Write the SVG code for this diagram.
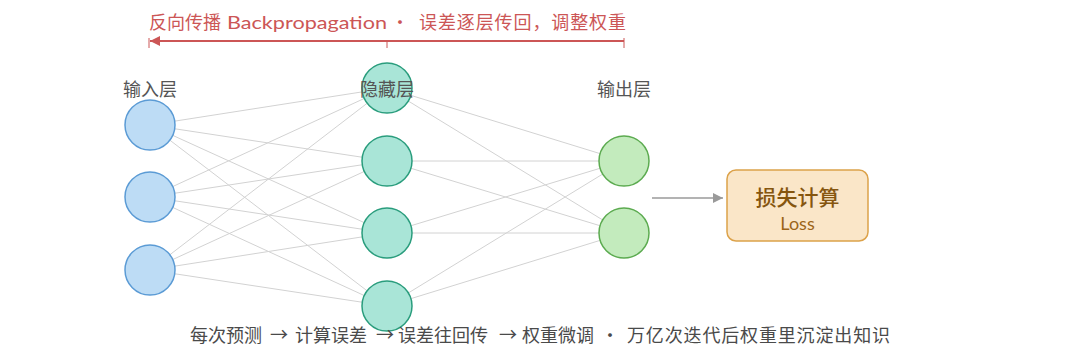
<svg xmlns="http://www.w3.org/2000/svg" width="1080" height="363" viewBox="0 0 1080 363">
<defs>
<style>
.cjk{font-family:"Noto Sans CJK SC","Noto Sans",sans-serif;}
.lat{font-family:"Lato","Noto Sans","Noto Sans CJK SC",sans-serif;}
.red{fill:#cc5656;font-size:18px;}
.lbl{fill:#555;font-size:18px;text-anchor:middle;}
.foot{fill:#4a4a4a;font-size:18px;}
.edge{stroke:#d2d2d2;stroke-width:1;fill:none;}
.in{fill:#bddcf5;stroke:#5b9bd5;stroke-width:1.5;}
.hid{fill:#a9e5d7;stroke:#2a9d7d;stroke-width:1.5;}
.out{fill:#c3ebbd;stroke:#5cab50;stroke-width:1.5;}
</style>
<marker id="ga" viewBox="0 0 10 10" refX="10" refY="5" markerWidth="10" markerHeight="10" markerUnits="userSpaceOnUse" orient="auto"><path d="M0,0 L10,5 L0,10 z" fill="#9a9a9a"/></marker>
<marker id="ra" viewBox="0 0 10 10" refX="10" refY="5" markerWidth="10" markerHeight="10" markerUnits="userSpaceOnUse" orient="auto"><path d="M0,0 L10,5 L0,10 z" fill="#cc5656"/></marker>
</defs>
<rect width="1080" height="363" fill="#fff"/>

<g id="backprop">
<text class="cjk red"><tspan x="149" y="29">反向传播</tspan><tspan class="lat" x="227" y="29" textLength="160" lengthAdjust="spacingAndGlyphs">Backpropagation</tspan><tspan x="391" y="29">·</tspan><tspan x="419" y="29" textLength="207">误差逐层传回，调整权重</tspan></text>
<line x1="624" y1="41" x2="150" y2="41" stroke="#cc5656" stroke-width="2" marker-end="url(#ra)"/>
<line x1="149" y1="38" x2="149" y2="48" stroke="#cc5656" stroke-width="1"/>
<line x1="387" y1="41" x2="387" y2="48" stroke="#cc5656" stroke-width="1"/>
<line x1="624" y1="38" x2="624" y2="48" stroke="#cc5656" stroke-width="1"/>
</g>

<g id="connectors">
<line class="edge" x1="150" y1="125" x2="387" y2="88"/>
<line class="edge" x1="150" y1="125" x2="387" y2="161"/>
<line class="edge" x1="150" y1="125" x2="387" y2="233"/>
<line class="edge" x1="150" y1="125" x2="387" y2="306"/>
<line class="edge" x1="150" y1="197" x2="387" y2="88"/>
<line class="edge" x1="150" y1="197" x2="387" y2="161"/>
<line class="edge" x1="150" y1="197" x2="387" y2="233"/>
<line class="edge" x1="150" y1="197" x2="387" y2="306"/>
<line class="edge" x1="150" y1="270" x2="387" y2="88"/>
<line class="edge" x1="150" y1="270" x2="387" y2="161"/>
<line class="edge" x1="150" y1="270" x2="387" y2="233"/>
<line class="edge" x1="150" y1="270" x2="387" y2="306"/>
<line class="edge" x1="387" y1="88" x2="624" y2="161"/>
<line class="edge" x1="387" y1="88" x2="624" y2="233"/>
<line class="edge" x1="387" y1="161" x2="624" y2="161"/>
<line class="edge" x1="387" y1="161" x2="624" y2="233"/>
<line class="edge" x1="387" y1="233" x2="624" y2="161"/>
<line class="edge" x1="387" y1="233" x2="624" y2="233"/>
<line class="edge" x1="387" y1="306" x2="624" y2="161"/>
<line class="edge" x1="387" y1="306" x2="624" y2="233"/>
<line x1="652" y1="198" x2="723" y2="198" stroke="#9a9a9a" stroke-width="1.5" marker-end="url(#ga)"/>
</g>

<g id="input-layer">
<circle class="in" cx="150" cy="125" r="25"/>
<circle class="in" cx="150" cy="197" r="25"/>
<circle class="in" cx="150" cy="270" r="25"/>
<text class="cjk lbl" x="150" y="96">输入层</text>
</g>

<g id="hidden-layer">
<circle class="hid" cx="387" cy="88" r="25"/>
<circle class="hid" cx="387" cy="161" r="25"/>
<circle class="hid" cx="387" cy="233" r="25"/>
<circle class="hid" cx="387" cy="306" r="25"/>
<text class="cjk lbl" x="387" y="96">隐藏层</text>
</g>

<g id="output-layer">
<circle class="out" cx="624" cy="161" r="25"/>
<circle class="out" cx="624" cy="233" r="25"/>
<text class="cjk lbl" x="624" y="96">输出层</text>
</g>

<g id="loss">
<rect x="727" y="170" width="141" height="71" rx="9" fill="#fae6c8" stroke="#dca24a" stroke-width="1.5"/>
<text class="cjk" x="797.5" y="205" font-size="21" font-weight="500" fill="#86560f" text-anchor="middle">损失计算</text>
<text class="lat" x="797.5" y="230" font-size="18" fill="#9c6519" text-anchor="middle">Loss</text>
</g>

<g id="footer">
<text class="cjk foot"><tspan x="190" y="342">每次预测</tspan><tspan x="270" y="341">→</tspan><tspan x="295" y="342">计算误差</tspan><tspan x="376" y="341">→</tspan><tspan x="398" y="342">误差往回传</tspan><tspan x="499" y="341">→</tspan><tspan x="522" y="342">权重微调</tspan><tspan x="601" y="342">·</tspan><tspan x="627" y="342" textLength="263">万亿次迭代后权重里沉淀出知识</tspan></text>
</g>
</svg>
